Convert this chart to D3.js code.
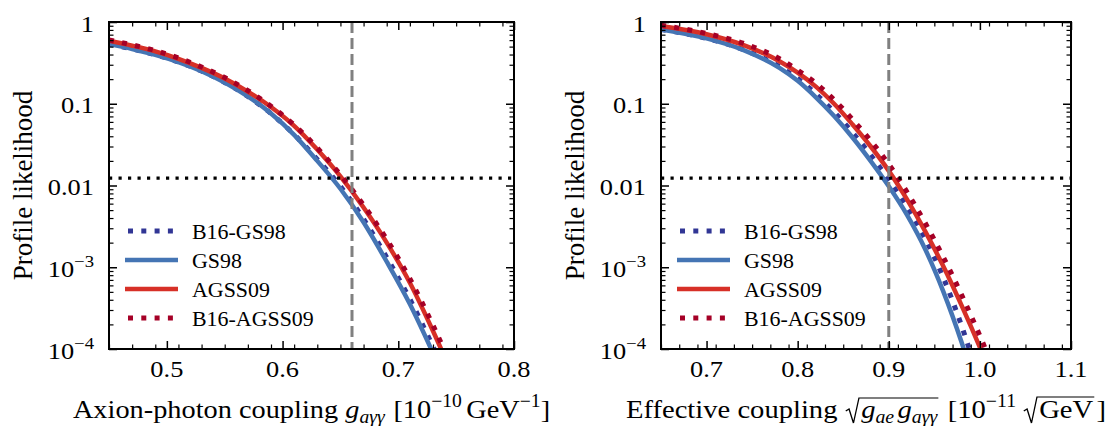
<!DOCTYPE html>
<html>
<head>
<meta charset="utf-8">
<title>Profile likelihood</title>
<style>
  body { margin: 0; background: #fff; }
  svg text { font-family: "Liberation Serif", "DejaVu Serif", serif; fill: #000; white-space: pre; }
</style>
</head>
<body>
<svg id="fig" width="1110" height="426"></svg>
<script src="https://cdnjs.cloudflare.com/ajax/libs/d3/7.8.5/d3.min.js"></script>
<script>
// ---- data ----
const leftX = [0.45, 0.47, 0.49, 0.51, 0.53, 0.55, 0.57, 0.59, 0.61, 0.63, 0.65, 0.67, 0.69, 0.71, 0.73, 0.75];
const leftB16GS98 = [0.537, 0.468, 0.398, 0.324, 0.251, 0.182, 0.123, 0.0759, 0.0420, 0.0209, 0.00977, 0.00389, 0.00132, 4.07e-4, 1.07e-4, 2.5e-5];
const leftGS98 = [0.537, 0.468, 0.398, 0.324, 0.251, 0.182, 0.123, 0.0759, 0.0417, 0.0200, 0.00912, 0.00355, 0.00117, 3.55e-4, 8.9e-5, 2.0e-5];
const leftAGSS09 = [0.589, 0.513, 0.437, 0.355, 0.275, 0.204, 0.141, 0.0912, 0.0537, 0.0275, 0.0129, 0.00537, 0.00200, 6.46e-4, 1.66e-4, 3.8e-5];
const leftB16AGSS09 = [0.603, 0.525, 0.447, 0.363, 0.282, 0.209, 0.145, 0.0933, 0.0550, 0.0288, 0.0135, 0.00575, 0.00219, 7.24e-4, 1.95e-4, 4.5e-5];

const rightX = [0.65, 0.70, 0.74, 0.78, 0.80, 0.82, 0.84, 0.86, 0.88, 0.90, 0.92, 0.94, 0.96, 0.98, 1.00, 1.02];
const rightB16GS98 = [0.813, 0.631, 0.461, 0.284, 0.203, 0.132, 0.0794, 0.0447, 0.0237, 0.0117, 0.00543, 0.00224, 7.4e-4, 1.91e-4, 3.9e-5, 7.9e-6];
const rightGS98 = [0.813, 0.631, 0.457, 0.275, 0.191, 0.120, 0.0708, 0.0389, 0.0200, 0.00977, 0.00437, 0.00166, 5.0e-4, 1.20e-4, 2.3e-5, 4e-6];
const rightAGSS09 = [0.891, 0.708, 0.525, 0.331, 0.240, 0.162, 0.100, 0.0562, 0.0302, 0.0151, 0.00676, 0.00275, 0.00102, 3.39e-4, 1.05e-4, 3.0e-5];
const rightB16AGSS09 = [0.912, 0.724, 0.550, 0.355, 0.257, 0.178, 0.112, 0.0646, 0.0355, 0.0182, 0.00832, 0.00347, 0.00132, 4.57e-4, 1.45e-4, 4.2e-5];

const seriesNames = ["B16-GS98", "GS98", "AGSS09", "B16-AGSS09"];
const leftXTicks = [0.5, 0.6, 0.7, 0.8];
const rightXTicks = [0.7, 0.8, 0.9, 1.0, 1.1];
const yTicks = [1, 0.1, 0.01, 1e-3, 1e-4];
const yTickLabels = [["1"], ["0.1"], ["0.01"], ["10", "\u22123"], ["10", "\u22124"]];
const levelLine = 0.0123;     // horizontal dotted line
const leftBound = 0.66;       // vertical dashed line, left
const rightBound = 0.90;      // vertical dashed line, right

// ---- styles ----
const styles = [
  {color: "#313695", width: 5, dash: "5,8.3"},
  {color: "#4575b4", width: 4.5, dash: null},
  {color: "#d73027", width: 4.5, dash: null},
  {color: "#a50026", width: 5, dash: "5,8.3"}
];

const svg = d3.select("#fig");
const plotTop = 22, plotBottom = 349;

// lay out pieces of text one after another (stretched by sx to get
// closer to the wider Computer Modern look), returns the group
function rich(parent, items, x, baseline, anchor, sx = 1) {
  const g = parent.append("g");
  let cx = 0;
  function put(list) {
    list.forEach(it => {
      if (it.sqrt) {
        const x0 = cx;
        cx += 15;
        put(it.sqrt);
        const end = cx + 1;
        const h = it.h || 19;
        g.append("path")
          .attr("d", `M${x0 + 1},${-7} L${x0 + 4},${-9} L${x0 + 8},${5} L${x0 + 13},${-h} L${end},${-h}`)
          .attr("fill", "none").attr("stroke", "#000").attr("stroke-width", 1.2);
        cx = end + 2;
      } else {
        const t = g.append("text")
          .attr("x", cx).attr("y", it.dy || 0)
          .style("font-size", (it.size || 26) + "px")
          .style("font-style", it.it ? "italic" : null)
          .text(it.t);
        cx += t.node().getComputedTextLength() + (it.sp || 0);
      }
    });
  }
  put(items);
  const shift = anchor === "middle" ? -cx / 2 : anchor === "end" ? -cx : 0;
  g.attr("transform", `translate(${x + shift * sx},${baseline}) scale(${sx},1)`);
  return g;
}

function panel(cfg) {
  const g = svg.append("g");
  const x = d3.scaleLinear().domain(cfg.xDomain).range([cfg.left, cfg.right]);
  const y = d3.scaleLog().domain([1e-4, 1]).range([plotBottom, plotTop]);

  const clipId = "clip" + cfg.id;
  svg.append("clipPath").attr("id", clipId)
    .append("rect").attr("x", cfg.left).attr("y", plotTop)
    .attr("width", cfg.right - cfg.left).attr("height", plotBottom - plotTop);

  const plot = g.append("g").attr("clip-path", `url(#${clipId})`);
  const line = d3.line()
    .x(d => x(d[0])).y(d => y(d[1]))
    .curve(d3.curveMonotoneX);

  cfg.series.forEach((vals, i) => {
    const st = styles[i];
    plot.append("path")
      .datum(cfg.xs.map((v, j) => [v, vals[j]]))
      .attr("d", line)
      .attr("fill", "none")
      .attr("stroke", st.color)
      .attr("stroke-width", st.width)
      .attr("stroke-dasharray", st.dash);
  });

  // reference lines
  plot.append("line")
    .attr("x1", cfg.left).attr("x2", cfg.right)
    .attr("y1", y(levelLine)).attr("y2", y(levelLine))
    .attr("stroke", "#000").attr("stroke-width", 3.2)
    .attr("stroke-dasharray", "3.2,6.3");
  plot.append("line")
    .attr("x1", x(cfg.bound)).attr("x2", x(cfg.bound))
    .attr("y1", plotTop).attr("y2", plotBottom)
    .attr("stroke", "#808080").attr("stroke-width", 3)
    .attr("stroke-dasharray", "11,5");

  // ticks (inward, on all four sides)
  const xMinor = d3.range(cfg.xDomain[0], cfg.xDomain[1] + 1e-9, 0.02)
    .filter(v => !cfg.xTicks.some(t => Math.abs(t - v) < 1e-6));
  const yMinor = [];
  for (let e = -4; e < 0; e++) for (let k = 2; k <= 9; k++) yMinor.push(k * Math.pow(10, e));

  const axes = [
    [d3.axisBottom(x), `translate(0,${plotBottom})`, "x"],
    [d3.axisTop(x), `translate(0,${plotTop})`, "x"],
    [d3.axisLeft(y), `translate(${cfg.left},0)`, "y"],
    [d3.axisRight(y), `translate(${cfg.right},0)`, "y"]
  ];
  axes.forEach(([ax, tr, kind]) => {
    const major = kind === "x" ? cfg.xTicks : yTicks;
    const minor = kind === "x" ? xMinor : yMinor;
    g.append("g").attr("transform", tr)
      .call(ax.tickValues(major).tickSize(-8).tickFormat(""))
      .call(s => s.select(".domain").remove())
      .call(s => s.selectAll("line").attr("stroke-width", 1.5));
    g.append("g").attr("transform", tr)
      .call(ax.tickValues(minor).tickSize(-4.5).tickFormat(""))
      .call(s => s.select(".domain").remove())
      .call(s => s.selectAll("line").attr("stroke-width", 1.2));
  });

  g.append("rect")
    .attr("x", cfg.left).attr("y", plotTop)
    .attr("width", cfg.right - cfg.left).attr("height", plotBottom - plotTop)
    .attr("fill", "none").attr("stroke", "#000").attr("stroke-width", 2);

  // tick labels
  cfg.xTicks.forEach((v, i) => {
    rich(g, [{t: cfg.xTickLabels[i], size: 24}], x(v), plotBottom + 28, "middle", 1.1);
  });
  yTicks.forEach((v, i) => {
    const lab = yTickLabels[i];
    const items = [{t: lab[0], size: 24}];
    if (lab[1]) items.push({t: lab[1], size: 17, dy: -10});
    rich(g, items, cfg.left - 15, y(v) + 9.5, "end", 1.1);
  });

  // axis labels
  rich(g, cfg.xLabel, (cfg.left + cfg.right) / 2, 418, "middle", cfg.labelStretch);
  g.append("text")
    .attr("transform", `translate(${cfg.left - 77},${(plotTop + plotBottom) / 2}) rotate(-90)`)
    .attr("text-anchor", "middle").style("font-size", "27px")
    .text("Profile likelihood");

  // legend
  seriesNames.forEach((name, i) => {
    const st = styles[i];
    const ly = 231 + i * 29;
    g.append("line")
      .attr("x1", cfg.left + (st.dash ? 19 : 16)).attr("x2", cfg.left + 69)
      .attr("y1", ly).attr("y2", ly)
      .attr("stroke", st.color).attr("stroke-width", st.width)
      .attr("stroke-dasharray", st.dash);
    rich(g, [{t: name, size: 21.5}], cfg.left + 83, ly + 7.5, "start", 1.02);
  });
}

panel({
  id: "L", left: 109, right: 514, xDomain: [0.45, 0.8],
  xs: leftX, series: [leftB16GS98, leftGS98, leftAGSS09, leftB16AGSS09],
  bound: leftBound, xTicks: leftXTicks, xTickLabels: ["0.5", "0.6", "0.7", "0.8"],
  labelStretch: 1.09,
  xLabel: [
    {t: "Axion-photon coupling "},
    {t: "g", it: true},
    {t: "a\u03b3\u03b3", it: true, size: 18, dy: 5, sp: 8},
    {t: "[10"},
    {t: "\u221210", size: 18, dy: -11, sp: 4},
    {t: "GeV"},
    {t: "\u22121", size: 18, dy: -11},
    {t: "]"}
  ]
});

panel({
  id: "R", left: 661, right: 1071, xDomain: [0.65, 1.1],
  xs: rightX, series: [rightB16GS98, rightGS98, rightAGSS09, rightB16AGSS09],
  bound: rightBound, xTicks: rightXTicks, xTickLabels: ["0.7", "0.8", "0.9", "1.0", "1.1"],
  labelStretch: 1.1,
  xLabel: [
    {t: "Effective coupling "},
    {sqrt: [
      {t: "g", it: true},
      {t: "ae", it: true, size: 18, dy: 5, sp: 3},
      {t: "g", it: true},
      {t: "a\u03b3\u03b3", it: true, size: 18, dy: 5}
    ], h: 20},
    {t: " [10"},
    {t: "\u221211", size: 18, dy: -11, sp: 6},
    {sqrt: [{t: "GeV"}], h: 21},
    {t: "]"}
  ]
});
</script>
</body>
</html>
